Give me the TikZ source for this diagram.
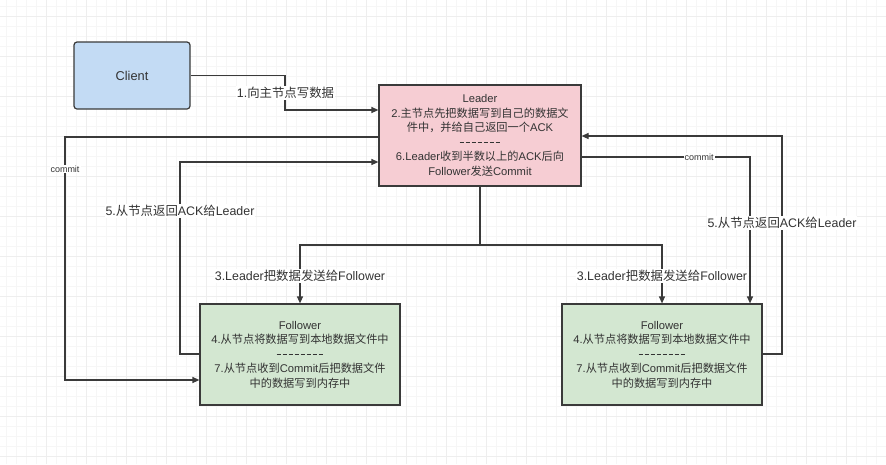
\documentclass[tikz,border=0pt]{standalone}
\usepackage{fontspec}
\setmainfont{Liberation Sans}
\newfontfamily\cjk{Noto Sans CJK SC}
\usetikzlibrary{arrows.meta}
\definecolor{txt}{HTML}{333333}
\definecolor{edge}{HTML}{3A3A3A}
\definecolor{clientfill}{HTML}{C3DBF4}
\definecolor{leaderfill}{HTML}{F6CDD3}
\definecolor{followfill}{HTML}{D3E7D1}
\definecolor{gridminor}{HTML}{F6F6F6}
\definecolor{gridmajor}{HTML}{EEEEEE}
\newcommand{\dsh}{\rule[3.6pt]{4.6pt}{0.8pt}\hspace{1.4pt}}
\newcommand{\zh}[1]{{\cjk #1}}
\tikzset{
  box/.style={draw=edge, line width=1.2pt, text=txt, align=center, inner sep=0pt,
    font=\fontsize{11.2}{14.5}\selectfont},
  conn/.style={draw=edge, line width=1.2pt, -{Triangle[length=7pt,width=6pt]}},
  plain/.style={draw=edge, line width=1.2pt},
  lbl/.style={fill=white, text=txt, inner sep=1pt, font=\fontsize{12.4}{14}\selectfont},
  smalllbl/.style={fill=white, text=txt, inner sep=1pt, font=\fontsize{9}{10}\selectfont},
}
\begin{document}
\begin{tikzpicture}[x=1pt,y=-1pt]
\useasboundingbox (0,0) rectangle (886,464);
\fill[white] (0,0) rectangle (886,464);
% grid
\foreach \gx in {6,16,...,886} \draw[gridminor, line width=0.6pt] (\gx,0) -- (\gx,464);
\foreach \gy in {6,16,...,464} \draw[gridminor, line width=0.6pt] (0,\gy) -- (886,\gy);
\foreach \gx in {46,86,...,886} \draw[gridmajor, line width=0.6pt] (\gx,0) -- (\gx,464);
\foreach \gy in {16,56,...,464} \draw[gridmajor, line width=0.6pt] (0,\gy) -- (886,\gy);

% nodes
\node[box, fill=clientfill, rounded corners=3pt, minimum width=116pt, minimum height=67pt, font=\fontsize{12.8}{14}\selectfont] (client) at (132,75.5) {Client};
\node[box, fill=leaderfill, minimum width=202pt, minimum height=101pt] (leader) at (480,135.5)
  {Leader\\2.\zh{主节点先把数据写到自己的数据文}\\\zh{件中，并给自己返回一个}ACK\\\dsh\dsh\dsh\dsh\dsh\dsh\dsh\unskip\\6.Leader\zh{收到半数以上的}ACK\zh{后向}\\Follower\zh{发送}Commit};
\node[box, fill=followfill, minimum width=200pt, minimum height=101pt] (fl) at (300,354.5)
  {Follower\\4.\zh{从节点将数据写到本地数据文件中}\\\dsh\dsh\dsh\dsh\dsh\dsh\dsh\dsh\unskip\\7.\zh{从节点收到}Commit\zh{后把数据文件}\\\zh{中的数据写到内存中}};
\node[box, fill=followfill, minimum width=200pt, minimum height=101pt] (fr) at (662,354.5)
  {Follower\\4.\zh{从节点将数据写到本地数据文件中}\\\dsh\dsh\dsh\dsh\dsh\dsh\dsh\dsh\unskip\\7.\zh{从节点收到}Commit\zh{后把数据文件}\\\zh{中的数据写到内存中}};

% 1 client -> leader
\draw[conn] (client.east) -- (285,75.5) -- (285,110) -- (leader.west |- 0,110);
\node[lbl] (l1) at (285.5,93) {1.\zh{向主节点写数据}};

% commit left
\draw[conn] (leader.west |- 0,137) -- (65,137) -- (65,380) -- (fl.west |- 0,380);
\node[smalllbl] (c1) at (65,169) {commit};

% 5 left
\draw[conn] (fl.west |- 0,354) -- (180,354) -- (180,162) -- (leader.west |- 0,162);
\node[lbl] (l5a) at (180,211) {5.\zh{从节点返回}ACK\zh{给}Leader};

% 3
\draw[plain] (leader.south) -- (480,245);
\draw[conn] (480,245) -- (300,245) -- (fl.north);
\draw[conn] (480,245) -- (662,245) -- (fr.north);
\node[lbl] (l3a) at (300,276) {3.Leader\zh{把数据发送给}Follower};
\node[lbl] (l3b) at (662,276) {3.Leader\zh{把数据发送给}Follower};

% commit right
\draw[conn] (leader.east |- 0,157) -- (750,157) -- (fr.north -| 750,0);
\node[smalllbl] (c2) at (699,157) {commit};

% 5 right
\draw[conn] (fr.east |- 0,354) -- (782,354) -- (782,136) -- (leader.east |- 0,136);
\node[lbl] (l5b) at (782,223) {5.\zh{从节点返回}ACK\zh{给}Leader};
\end{tikzpicture}
\end{document}
